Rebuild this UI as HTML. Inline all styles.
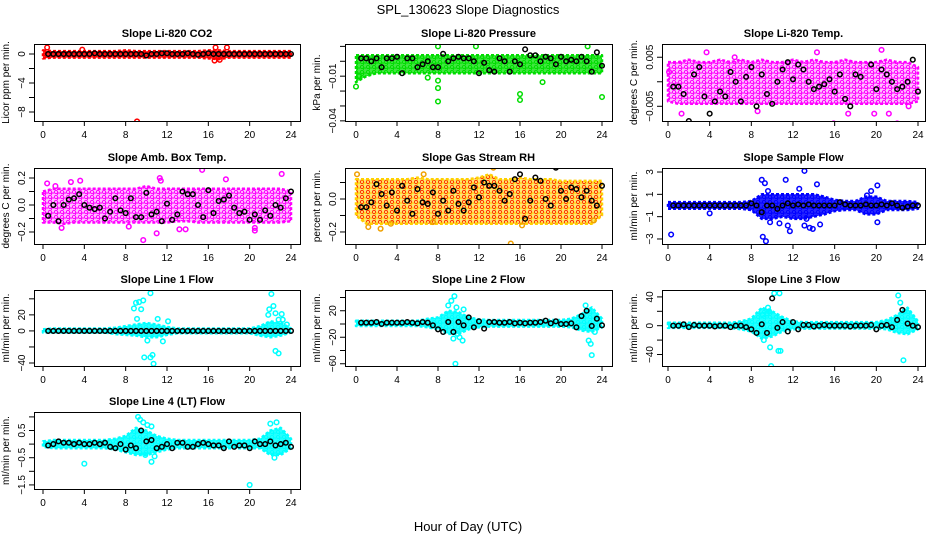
<!DOCTYPE html>
<html><head><meta charset="utf-8"><style>
html,body{margin:0;padding:0;background:#fff;}
svg{display:block;font-family:"Liberation Sans",sans-serif;}
</style></head><body>
<svg id="chart" width="936" height="540" viewBox="0 0 936 540" xmlns="http://www.w3.org/2000/svg">
<text x="468" y="14" text-anchor="middle" font-size="13">SPL_130623  Slope Diagnostics</text>
<text x="468" y="531" text-anchor="middle" font-size="13">Hour of Day (UTC)</text>
</svg>
<script>
// ---- data (hour = x) ----
const hourTicks = [0,4,8,12,16,20,24];
const bandHours = [0,1,2,3,4,5,6,7,8,9,10,11,12,13,14,15,16,17,18,19,20,21,22,23,24];
const blackHours = [0.5,1,1.5,2,2.5,3,3.5,4,4.5,5,5.5,6,6.5,7,7.5,8,8.5,9,9.5,10,10.5,11,11.5,12,12.5,13,13.5,14,14.5,15,15.5,16,16.5,17,17.5,18,18.5,19,19.5,20,20.5,21,21.5,22,22.5,23,23.5,24];

// Panel 1: CO2
const co2Lo = [-0.6,-0.5,-0.5,-0.5,-0.5,-0.5,-0.5,-0.5,-0.5,-0.5,-0.5,-0.5,-0.5,-0.5,-0.5,-0.5,-0.6,-0.7,-0.5,-0.5,-0.5,-0.5,-0.5,-0.5,-0.5];
const co2Hi = [0.5,0.4,0.4,0.4,0.4,0.4,0.4,0.4,0.5,0.4,0.4,0.4,0.4,0.4,0.4,0.4,0.5,0.5,0.4,0.4,0.4,0.4,0.4,0.4,0.4];
const co2OutX = [0.4,3.8,9.1,16.7,17.1,17.8,16.6];
const co2OutY = [0.9,0.6,-9.3,0.9,-0.8,0.9,-0.9];
const co2Black = [0,0,0,0,0,0,0,0,0,0.1,0,0,0,0,0,0,0,0,0,-0.2,0,0,0.1,0.1,0,0,0,0.1,0,-0.1,0,0.1,0,0,0,0,0,0,0,0,0,0,0,0,0,0,0,0];

// Panel 2: Pressure
const presLo = [-0.014,-0.010,-0.008,-0.008,-0.008,-0.008,-0.008,-0.008,-0.008,-0.008,-0.008,-0.008,-0.008,-0.008,-0.008,-0.008,-0.008,-0.008,-0.008,-0.008,-0.008,-0.008,-0.008,-0.008,-0.008];
const presHi = [0.004,0.004,0.004,0.004,0.004,0.004,0.004,0.004,0.004,0.004,0.004,0.004,0.004,0.004,0.004,0.004,0.004,0.004,0.004,0.004,0.004,0.004,0.004,0.004,0.004];
const presOutX = [0,0.3,4,7,8,8,8,12,16,16,18.2,20,24,11.7,22.6,8];
const presOutY = [-0.017,-0.010,-0.043,-0.011,-0.013,-0.018,-0.027,-0.044,-0.022,-0.026,-0.014,-0.044,-0.024,0.010,0.010,0.010];
const presBlack = [0.002,0.002,0.000,0.002,-0.004,0.002,0.002,0.003,-0.008,0.002,0.002,-0.004,-0.002,0.000,-0.004,-0.004,0.005,0.000,0.002,0.003,0.002,0.002,0.000,-0.008,-0.001,-0.006,-0.007,0.002,0.000,-0.007,0.000,-0.002,0.008,0.004,0.004,0.000,0.003,0.002,-0.002,0.003,0.000,0.001,0.000,0.003,0.000,-0.007,0.006,-0.003];

// Panel 3: Li-820 Temp
const tempLo = [-0.004,-0.0045,-0.0045,-0.0045,-0.0045,-0.0045,-0.0045,-0.0045,-0.0045,-0.0045,-0.0045,-0.0045,-0.0045,-0.0045,-0.0045,-0.0045,-0.0045,-0.0045,-0.0045,-0.0045,-0.0045,-0.0045,-0.0045,-0.0045,-0.004];
const tempHi = [0.004,0.004,0.0045,0.004,0.004,0.0045,0.004,0.0045,0.004,0.0045,0.004,0.004,0.0045,0.004,0.0045,0.004,0.004,0.0045,0.004,0.004,0.004,0.0045,0.004,0.004,0.003];
const tempOutX = [1.3,3.7,5.3,8.6,12.8,14,15,15.9,17.3,19.8,20.5,21.2,14.3,22,23.1,6.4,0.1];
const tempOutY = [-0.0065,0.006,-0.0095,-0.006,-0.0095,-0.0095,-0.0105,-0.0085,-0.0065,-0.0065,0.0065,-0.0065,0.006,-0.0085,-0.005,0.005,0.002];
const tempBlack = [-0.001,-0.001,-0.0025,-0.008,0.0015,0.003,-0.003,-0.0065,-0.004,-0.002,-0.003,0.002,0.0,-0.004,0.001,0.003,-0.005,0.0015,-0.0025,-0.0045,0.0,0.0025,0.004,0.0005,0.0035,0.0025,0.0,-0.0015,-0.001,-0.0005,0.0005,-0.002,0.0015,-0.0035,-0.005,0.0015,0.001,0.009,0.0035,-0.0015,0.0025,0.0015,0.0,-0.0015,-0.001,0.0,0.0045,-0.002];

// Panel 4: Amb. Box Temp
const ambLo = [-0.13,-0.13,-0.14,-0.13,-0.13,-0.13,-0.13,-0.13,-0.13,-0.13,-0.13,-0.13,-0.13,-0.12,-0.12,-0.13,-0.13,-0.13,-0.13,-0.13,-0.13,-0.13,-0.13,-0.13,-0.12];
const ambHi = [0.1,0.12,0.12,0.12,0.12,0.12,0.12,0.12,0.12,0.12,0.14,0.12,0.12,0.12,0.12,0.12,0.12,0.12,0.12,0.12,0.12,0.12,0.12,0.12,0.1];
const ambOutX = [0.4,1.8,9.7,11.3,15.4,20.5,23.1,1.2,8.3,11,13.2,13.8,20.5,2.7,17.7,3.6,11.4];
const ambOutY = [0.16,-0.17,-0.26,0.2,0.26,-0.19,0.23,0.14,-0.16,-0.21,-0.18,-0.18,-0.17,0.17,0.19,0.18,0.18];
const ambBlack = [-0.08,0.0,-0.12,0.0,0.04,0.05,0.08,0.0,-0.02,-0.03,-0.02,-0.1,-0.05,0.05,-0.04,-0.06,0.05,-0.09,-0.09,0.09,-0.07,-0.05,-0.12,0.01,-0.11,-0.07,0.1,0.08,0.08,0.0,-0.09,0.11,-0.06,0.03,0.04,0.07,-0.02,-0.06,-0.05,-0.11,-0.07,-0.11,-0.04,-0.08,0.0,-0.02,0.05,0.1];

// Panel 5: Gas Stream RH
const rhLo = [-0.1,-0.15,-0.15,-0.15,-0.15,-0.15,-0.15,-0.15,-0.15,-0.15,-0.15,-0.15,-0.15,-0.15,-0.15,-0.15,-0.15,-0.15,-0.15,-0.15,-0.15,-0.15,-0.15,-0.15,-0.1];
const rhHi = [0.12,0.12,0.12,0.12,0.12,0.12,0.13,0.12,0.12,0.12,0.12,0.12,0.13,0.15,0.12,0.12,0.13,0.12,0.12,0.12,0.11,0.11,0.11,0.11,0.11];
const rhOutX = [0.1,1.2,2.4,3.4,7.5,15.1,16.2,23.2,13.4,6.6];
const rhOutY = [0.15,-0.17,-0.18,-0.15,-0.14,-0.27,-0.16,-0.13,0.19,0.15];
const rhBlack = [-0.05,-0.05,-0.02,0.09,0.03,-0.04,0.04,-0.07,0.08,-0.01,-0.09,0.06,-0.02,-0.03,0.04,-0.09,-0.01,-0.07,0.05,-0.03,-0.07,-0.02,0.07,0.01,0.1,0.08,0.08,0.05,-0.01,0.03,0.12,0.15,-0.12,-0.01,0.13,0.11,0.0,-0.04,0.19,0.05,0.0,0.07,0.06,0.01,0.05,-0.01,-0.04,0.08];

// Panel 6: Sample Flow
const sfLo = [-0.3,-0.3,-0.3,-0.3,-0.3,-0.3,-0.3,-0.3,-0.4,-1.2,-1.2,-1.0,-1.2,-1.2,-1.0,-0.8,-0.5,-0.4,-0.4,-0.8,-0.8,-0.4,-0.4,-0.4,-0.3];
const sfHi = [0.3,0.3,0.3,0.3,0.3,0.3,0.3,0.3,0.4,1.0,1.0,1.0,1.0,1.0,1.0,0.8,0.5,0.4,0.4,0.8,0.8,0.4,0.4,0.4,0.3];
const sfOutX = [0.3,9,9.3,9.6,9.1,9.4,9.8,11.3,11.7,11.5,12.6,13.1,13.6,14.3,14.6,13.1,13.3,13.9,10.7,19.5,20.1,20.1,19.1,4];
const sfOutY = [-2.6,2.3,2.0,1.3,-2.8,-3.2,-1.5,2.3,-2.3,-1.8,1.5,3.1,-2.0,1.9,-1.7,-1.8,-1.2,-2.1,-1.6,1.3,1.8,-1.5,0.9,-0.7];
const sfBlack = [0.0,0.0,0.0,0.0,0.0,0.0,0.0,0.0,0.0,0.0,0.0,0.0,0.0,0.0,0.0,0.2,0.0,-0.6,0.0,0.0,-0.3,0.0,0.2,0.0,0.1,0.0,0.1,0.0,0.0,0.0,0.0,0.0,0.3,0.1,0.0,0.0,0.0,0.1,0.0,0.0,0.1,0.0,0.2,0.0,-0.2,-0.1,0.0,0.0];

// Panel 7: Line 1 Flow
const l1Lo = [-2,-2,-2,-2,-2,-2,-2,-4,-5,-6,-8,-8,-5,-3,-3,-3,-3,-3,-3,-3,-3,-6,-8,-6,-2];
const l1Hi = [2,3,3,3,3,3,3,4,6,8,10,8,5,3,3,3,3,3,3,3,3,6,12,10,3];
const l1OutX = [8.8,9.0,9.3,9.5,9.7,10.4,10.6,11.1,11.6,12.1,9.8,10.4,10.7,9.1,21.8,22.1,22.3,22.5,22.8,23.1,22.5,22.8,23.2,23.6,21.9,10.1];
const l1OutY = [28,35,36,27,38,47,-30,15,-13,12,-33,-33,-41,15,20,46,31,22,14,21,-25,-28,14,8,27,-12];
const l1Black = [0,0,0,0,0,0,0,0,0,0,0,0,0,0,0,0,0,0,0,0,0,0,0,0,0,0,0,0,0,0,0,0,0,0,0,0,0,0,0,0,0,0,0,0,0,0,0,0];

// Panel 8: Line 2 Flow
const l2Lo = [-3,-3,-3,-3,-3,-3,-3,-5,-8,-15,-15,-8,-5,-4,-4,-4,-4,-4,-4,-4,-4,-5,-10,-12,-5];
const l2Hi = [5,5,5,5,5,5,5,8,10,20,18,10,7,6,6,6,6,6,6,6,6,8,15,25,8];
const l2OutX = [9.0,9.3,9.6,9.8,10.1,10.4,9.5,9.7,10.5,9.9,22.7,22.9,23.0,23.3,22.4];
const l2OutY = [28,35,42,25,-20,-25,-22,-60,22,-15,-25,-30,-47,-12,28];
const l2Black = [2,2,2,3,0,2,2,2,2,3,2,1,3,2,-2,-8,-12,3,-12,3,-2,10,-5,4,-7,3,3,2,2,3,1,2,1,2,2,3,5,1,4,0,0,1,-5,12,20,-3,8,-2];

// Panel 9: Line 3 Flow
const l3Lo = [-3,-3,-3,-3,-3,-3,-3,-5,-8,-18,-15,-8,-5,-4,-4,-4,-4,-4,-4,-4,-4,-5,-10,-12,-5];
const l3Hi = [4,4,4,4,4,4,4,6,10,25,20,12,6,5,5,5,5,5,5,5,5,8,15,25,6];
const l3OutX = [9.5,9.6,10.2,10.7,9.2,9.8,9.9,10.6,10.8,9.1,22.1,22.3,22.7,22.6,9.7];
const l3OutY = [17,25,45,45,-20,-30,-56,-35,-35,15,42,32,20,-48,20];
const l3Black = [0,0,2,-2,1,0,0,0,-1,0,0,-2,0,0,-2,-5,-10,2,-10,38,-3,5,-8,5,-5,1,1,-1,0,1,0,0,0,0,-1,0,0,0,1,-5,0,1,-2,8,22,3,0,-2];

// Panel 10: Line 4 (LT) Flow
const l4Lo = [-0.1,-0.15,-0.15,-0.15,-0.15,-0.15,-0.15,-0.2,-0.3,-0.4,-0.4,-0.3,-0.2,-0.15,-0.15,-0.15,-0.15,-0.15,-0.15,-0.15,-0.15,-0.15,-0.4,-0.4,-0.15];
const l4Hi = [0.1,0.15,0.15,0.15,0.15,0.15,0.15,0.2,0.3,0.6,0.5,0.3,0.2,0.15,0.15,0.15,0.15,0.15,0.15,0.15,0.15,0.2,0.5,0.6,0.2];
const l4OutX = [4.0,9.2,9.4,9.7,10.1,10.5,10.8,20.0,22.0,22.6,22.4,10.5,9.9];
const l4OutY = [-0.72,1.0,0.9,0.8,0.7,0.65,-0.45,-1.5,0.75,0.8,-0.5,-0.65,-0.4];
const l4Black = [-0.05,0.0,0.1,0.05,0.05,0.0,0.05,0.0,0.0,0.05,0.0,0.05,-0.1,-0.15,0.0,-0.2,-0.05,-0.15,0.5,0.1,0.15,-0.15,-0.1,0.0,-0.15,0.05,0.05,-0.1,-0.1,0.0,0.05,0.0,-0.05,-0.05,-0.15,0.1,-0.1,-0.05,-0.05,-0.15,0.1,0.0,0.0,0.1,-0.05,0.0,0.05,-0.1];

const panels = [
 {name:'co2',title:'Slope Li-820 CO2',ylab:'Licor ppm per min.',col:0,row:0,ymin:-9.24,ymax:1.38,ticks:[-8,-6,-4,-2,0],labels:[-8,-4,0],fmt:v=>String(v),color:'#ff0000',bg:'#ff0000',bgop:0.85,lo:co2Lo,hi:co2Hi,ox:co2OutX,oy:co2OutY,bk:co2Black},
 {name:'pressure',title:'Slope Li-820 Pressure',ylab:'kPa per min.',col:1,row:0,ymin:-0.0401,ymax:0.0116,ticks:[-0.04,-0.03,-0.02,-0.01,0,0.01],labels:[-0.04,-0.01],fmt:v=>v.toFixed(2),color:'#00dd00',bg:'#00dd00',bgop:0.75,lo:presLo,hi:presHi,ox:presOutX,oy:presOutY,bk:presBlack},
 {name:'li820-temp',title:'Slope Li-820 Temp.',ylab:'degrees C per min.',col:2,row:0,ymin:-0.0080,ymax:0.0077,ticks:[-0.005,0,0.005],labels:[-0.005,0.005],fmt:v=>v.toFixed(3),color:'#ff00ff',bg:'#ff00ff',bgop:0.25,lo:tempLo,hi:tempHi,ox:tempOutX,oy:tempOutY,bk:tempBlack},
 {name:'amb-box-temp',title:'Slope Amb. Box Temp.',ylab:'degrees C per min.',col:0,row:1,ymin:-0.289,ymax:0.274,ticks:[-0.2,-0.1,0,0.1,0.2],labels:[-0.2,0,0.2],fmt:v=>v.toFixed(1),color:'#ff00ff',bg:'#ff00ff',bgop:0.25,lo:ambLo,hi:ambHi,ox:ambOutX,oy:ambOutY,bk:ambBlack},
 {name:'gas-stream-rh',title:'Slope Gas Stream RH',ylab:'percent per min.',col:1,row:1,ymin:-0.273,ymax:0.188,ticks:[-0.2,-0.1,0,0.1],labels:[-0.2,0],fmt:v=>v.toFixed(1),color:'#ffd000',bg:'#ffd000',bgop:0.55,dot:'#ff3000',lo:rhLo,hi:rhHi,ox:rhOutX,oy:rhOutY,bk:rhBlack},
 {name:'sample-flow',title:'Slope Sample Flow',ylab:'mI/min per min.',col:2,row:1,ymin:-3.45,ymax:3.36,ticks:[-3,-1,1,3],labels:[-3,-1,1,3],fmt:v=>String(v),color:'#0000ff',bg:'#0000ff',bgop:0.85,lo:sfLo,hi:sfHi,ox:sfOutX,oy:sfOutY,bk:sfBlack},
 {name:'line1-flow',title:'Slope Line 1 Flow',ylab:'mI/min per min.',col:0,row:2,ymin:-43.75,ymax:51,ticks:[-40,-20,0,20,40],labels:[-40,0,20],fmt:v=>String(v),color:'#00ffff',bg:'#00ffff',bgop:0.85,lo:l1Lo,hi:l1Hi,ox:l1OutX,oy:l1OutY,bk:l1Black},
 {name:'line2-flow',title:'Slope Line 2 Flow',ylab:'mI/min per min.',col:1,row:2,ymin:-63.4,ymax:51.3,ticks:[-60,-40,-20,0,20,40],labels:[-60,-20,20],fmt:v=>String(v),color:'#00ffff',bg:'#00ffff',bgop:0.85,lo:l2Lo,hi:l2Hi,ox:l2OutX,oy:l2OutY,bk:l2Black},
 {name:'line3-flow',title:'Slope Line 3 Flow',ylab:'mI/min per min.',col:2,row:2,ymin:-56,ymax:49.6,ticks:[-40,-20,0,20,40],labels:[-40,0,40],fmt:v=>String(v),color:'#00ffff',bg:'#00ffff',bgop:0.85,lo:l3Lo,hi:l3Hi,ox:l3OutX,oy:l3OutY,bk:l3Black},
 {name:'line4-flow',title:'Slope Line 4 (LT) Flow',ylab:'mI/min per min.',col:0,row:3,ymin:-1.65,ymax:1.18,ticks:[-1.5,-1,-0.5,0,0.5,1],labels:[-1.5,-0.5,0.5],fmt:v=>String(v),color:'#00ffff',bg:'#00ffff',bgop:0.85,lo:l4Lo,hi:l4Hi,ox:l4OutX,oy:l4OutY,bk:l4Black}
];
const colBox = [{l:34,r:300,x0:43,x24:291},{l:345,r:612,x0:356,x24:602},{l:662,r:925,x0:668,x24:918}];
const rowBox = [{t:44,b:121},{t:168,b:244},{t:290,b:366},{t:412,b:489}];

const svg = document.getElementById('chart');
const NS = 'http://www.w3.org/2000/svg';
function mk(tag, attrs, parent){const e=document.createElementNS(NS,tag);for(const k in attrs)e.setAttribute(k,attrs[k]);parent.appendChild(e);return e;}
const defs = mk('defs',{},svg);

panels.forEach(p=>{
  const cb=colBox[p.col], rb=rowBox[p.row];
  const xs=h=>cb.x0+(cb.x24-cb.x0)*h/24;
  const ys=v=>rb.b-(rb.b-rb.t)*(v-p.ymin)/(p.ymax-p.ymin);
  // texture pattern of open circles
  const pat=mk('pattern',{id:'pat-'+p.name,width:6,height:5,patternUnits:'userSpaceOnUse'},defs);
  mk('rect',{x:0,y:0,width:6,height:5,fill:p.bg,'fill-opacity':p.bgop},pat);
  mk('circle',{cx:2,cy:2,r:1.6,fill:'none',stroke:p.dot||p.color,'stroke-width':1},pat);
  mk('circle',{cx:5,cy:4.5,r:1.6,fill:'none',stroke:p.color,'stroke-width':1},pat);
  const g=mk('g',{},svg);
  
  
  const clip='clip-'+p.name;
  const cp=mk('clipPath',{id:clip},g);
  mk('rect',{x:cb.l,y:rb.t,width:cb.r-cb.l,height:rb.b-rb.t},cp);
  const data=mk('g',{'clip-path':'url(#'+clip+')'},g);
  let d='';
  bandHours.forEach((h,i)=>{d+=(i?'L':'M')+xs(h).toFixed(1)+' '+ys(p.hi[i]).toFixed(1);});
  for(let i=bandHours.length-1;i>=0;i--)d+='L'+xs(bandHours[i]).toFixed(1)+' '+ys(p.lo[i]).toFixed(1);
  const band=mk('path',{d:d+'Z',fill:'url(#pat-'+p.name+')',stroke:p.color,'stroke-width':2.5,'stroke-dasharray':'3 2','stroke-linejoin':'round'},data);
  
  
  p.ox.forEach((x,i)=>{
    const c=mk('circle',{cx:xs(x),cy:ys(p.oy[i]),r:2.3,fill:'none',stroke:p.color==='#ffd000'?'#f0a000':p.color,'stroke-width':1.5},data);
    
    
  });
  p.bk.forEach((v,i)=>{
    const c=mk('circle',{cx:xs(blackHours[i]),cy:ys(v),r:2.3,fill:'none',stroke:'#000','stroke-width':1.5},data);
    
    
  });
  const box=mk('rect',{x:cb.l+0.5,y:rb.t+0.5,width:cb.r-cb.l,height:rb.b-rb.t,fill:'none',stroke:'#000','stroke-width':1},g);
  
  
  hourTicks.forEach(h=>{
    mk('line',{x1:xs(h),x2:xs(h),y1:rb.b,y2:rb.b+5,stroke:'#000'},g);
    const t=mk('text',{x:xs(h),y:rb.b+17,'text-anchor':'middle','font-size':10},g);
    t.textContent=h;
    
    
  });
  p.ticks.forEach(v=>{
    mk('line',{x1:cb.l,x2:cb.l-5,y1:ys(v),y2:ys(v),stroke:'#000'},g);
  });
  p.labels.forEach(v=>{
    const x=cb.l-9, y=ys(v);
    const t=mk('text',{x:x,y:y,'text-anchor':'middle','font-size':10,transform:'rotate(-90 '+x+' '+y+')'},g);
    t.textContent=p.fmt(v).replace('-','\u2212');
    
    
  });
  const yx=cb.l-25, yy=(rb.t+rb.b)/2;
  const yt=mk('text',{x:yx,y:yy,'text-anchor':'middle','font-size':10,transform:'rotate(-90 '+yx+' '+yy+')'},g);
  yt.textContent=p.ylab;
  
  
  const tt=mk('text',{x:(cb.l+cb.r)/2,y:rb.t-7,'text-anchor':'middle','font-size':11,'font-weight':'bold'},g);
  tt.textContent=p.title;
  
  
});
</script>
</body></html>
